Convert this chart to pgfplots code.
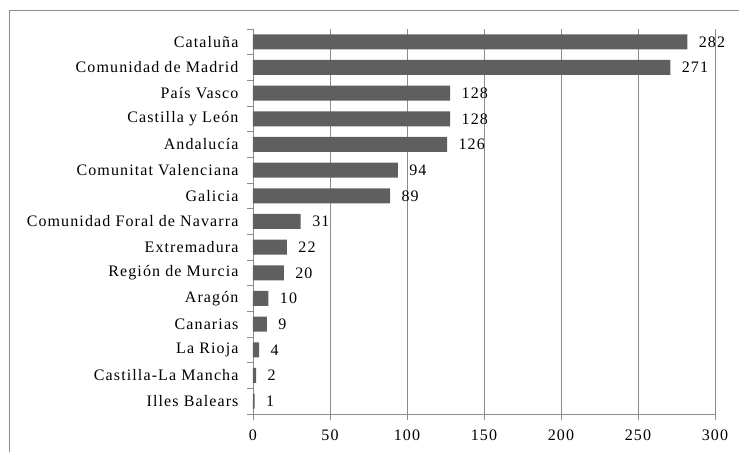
\documentclass[border=0pt]{standalone}
\usepackage{fontspec}
\setmainfont[LetterSpace=7]{Liberation Serif}
\usepackage{pgfplots}
\pgfplotsset{compat=1.18}
\definecolor{barfill}{RGB}{95,95,95}
\definecolor{gridc}{RGB}{140,140,140}
\begin{document}
\fontsize{16}{19}\selectfont
\begin{tikzpicture}
\begin{axis}[
    at={(0,0)}, anchor=south west,
    scale only axis,
    width=462pt, height=385pt,
    xbar, bar width=15pt,
    xmin=0, xmax=300,
    ymin=-0.5, ymax=14.5,
    /pgf/number format/assume math mode=true,
    axis lines*=left,
    axis line style={gridc},
    tick align=outside,
    tick style={gridc, thin},
    major tick length=6pt,
    xtick={0,50,...,300},
    xmajorgrids,
    grid style={gridc, thin},
    ytick={-0.5,0.5,...,14.5},
    yticklabels={},
    extra y ticks={0,...,14},
    extra y tick labels={Illes Balears, Castilla-La Mancha, La Rioja, Canarias, Aragón, Región de Murcia, Extremadura, Comunidad Foral de Navarra, Galicia, Comunitat Valenciana, Andalucía, Castilla y León, País Vasco, Comunidad de Madrid, Cataluña},
    extra y tick style={major tick length=0pt, yticklabel style={xshift=-9pt}},
    xticklabel style={yshift=-4pt},
    nodes near coords,
    every node near coord/.append style={xshift=6pt, black},
]
\addplot[fill=barfill, draw=none] coordinates {
    (1,0) (2,1) (4,2) (9,3) (10,4) (20,5) (22,6) (31,7)
    (89,8) (94,9) (126,10) (128,11) (128,12) (271,13) (282,14)
};
\end{axis}
\draw[gridc] (-244pt,-38pt) -- (-244pt,404pt) -- (486pt,404pt);
\pgfresetboundingbox
\useasboundingbox (-253pt,-38pt) rectangle (486pt,414pt);
\end{tikzpicture}
\end{document}
